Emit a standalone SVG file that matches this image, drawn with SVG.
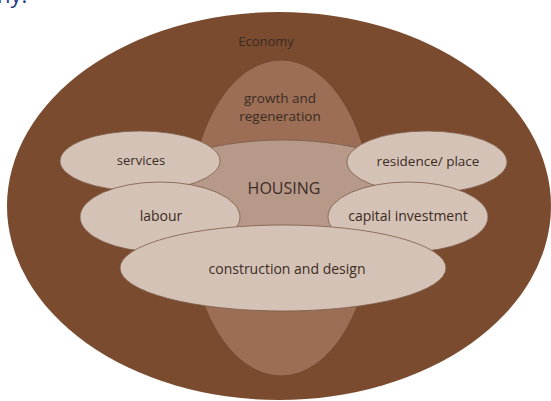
<svg xmlns="http://www.w3.org/2000/svg" width="551" height="401" viewBox="0 0 551 401">
<style>
.lbl{font-family:"Open Sans","Liberation Sans",sans-serif;fill:#3b2c24;text-anchor:middle}
.small{fill:#d5c2b6;stroke:#7b5a48;stroke-width:0.8}
</style>
<rect width="551" height="401" fill="#ffffff"/>
<text x="-3" y="3" style="font-family:'Open Sans','Liberation Sans',sans-serif;font-size:22px;fill:#1f3c88">ny.</text>
<g id="economy">
<ellipse cx="279" cy="206" rx="272" ry="194" fill="#7a4b2f"/>
<text class="lbl" x="266" y="46" font-size="13">Economy</text>
</g>
<g id="growth">
<ellipse cx="281" cy="218" rx="92" ry="158" fill="#9b6e55" stroke="#6e4630" stroke-width="0.8"/>
<text class="lbl" x="280" y="103" font-size="13.5">growth and</text>
<text class="lbl" x="280" y="121" font-size="13.5">regeneration</text>
</g>
<g id="housing">
<ellipse cx="283" cy="200" rx="150" ry="60" fill="#b7998a" stroke="#7b5a48" stroke-width="0.8"/>
<text class="lbl" x="284" y="194" font-size="16">HOUSING</text>
</g>
<g id="services">
<ellipse class="small" cx="140" cy="161" rx="80" ry="30"/>
<text class="lbl" x="141" y="165" font-size="13">services</text>
</g>
<g id="residence">
<ellipse class="small" cx="427" cy="162" rx="80" ry="31"/>
<text class="lbl" x="428" y="166" font-size="13.5">residence/ place</text>
</g>
<g id="labour">
<ellipse class="small" cx="160" cy="217" rx="80" ry="35"/>
<text class="lbl" x="161" y="221" font-size="14">labour</text>
</g>
<g id="capital">
<ellipse class="small" cx="408" cy="217" rx="80" ry="35"/>
<text class="lbl" x="408" y="221" font-size="14">capital investment</text>
</g>
<g id="construction">
<ellipse class="small" cx="283" cy="268" rx="163" ry="43"/>
<text class="lbl" x="287" y="274" font-size="14">construction and design</text>
</g>
<g id="connectors"></g>
</svg>
